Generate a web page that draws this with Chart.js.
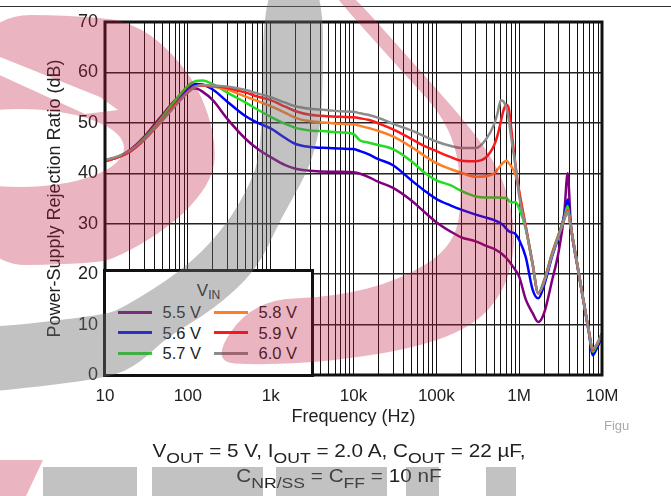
<!DOCTYPE html>
<html>
<head>
<meta charset="utf-8">
<script src="https://cdn.jsdelivr.net/npm/chart.js@4.4.1/dist/chart.umd.min.js"></script>
<style>
  html, body { margin: 0; padding: 0; background: #fff; }
  #wrap { position: relative; width: 671px; height: 496px; overflow: hidden;
          font-family: 'Liberation Sans', Arial, sans-serif; color: #222; }
  #chart { position: absolute; left: 0; top: 0; }
  #topline { position: absolute; left: 0; top: 6px; width: 671px; height: 1px; background: #333; }
  #legend { position: absolute; left: 103px; top: 269px; width: 211px; height: 108px;
            box-sizing: border-box; border: 3px solid #111; background: #fff; }
  #legend .ttl { position: absolute; left: 0; top: 10px; width: 100%; text-align: center;
                 font-size: 17px; line-height: 17px; }
  #legend .ttl span { font-size: 12px; position: relative; top: 3px; }
  #legend .sw { position: absolute; width: 34px; height: 3px; }
  #legend .tx { position: absolute; font-size: 16.5px; line-height: 16.5px; white-space: nowrap; }
  .cap { position: absolute; left: 0; width: 678px; text-align: center; font-size: 18px;
         line-height: 18px; white-space: nowrap; transform: scaleX(1.15); }
  .cap span { font-size: 0.85em; position: relative; top: 6px; }
  #figu { position: absolute; left: 604px; top: 419px; font-size: 13px; line-height: 13px; color: #aaa; }
  #wm { position: absolute; left: 0; top: 0; pointer-events: none; }
</style>
</head>
<body>
<div id="wrap">
  <div id="topline"></div>
  <canvas id="chart" width="671" height="496"></canvas>
  <div id="legend"><div class="ttl">V<span>IN</span></div></div>
  <div class="cap" style="top:442px">V<span>OUT</span> = 5 V, I<span>OUT</span> = 2.0 A, C<span>OUT</span> = 22 µF,</div>
  <div class="cap" style="top:467px">C<span>NR/SS</span> = C<span>FF</span> = 10 nF</div>
  <div id="figu">Figu</div>
  <canvas id="wm" width="671" height="496"></canvas>
</div>
<script>
// frequency points (Hz) shared by all curves
const FREQ = [10, 15, 20, 30, 40, 50, 70, 100, 125, 150, 200, 300, 500, 700,
  1e3, 1.5e3, 2e3, 3e3, 5e3, 7e3, 1e4, 1.2e4, 1.5e4, 2e4, 3e4, 5e4, 7e4,
  1e5, 1.5e5, 2e5, 3e5, 4e5, 5e5, 5.5e5, 6e5, 6.5e5, 7e5, 7.5e5, 8e5, 9e5,
  1e6, 1.2e6, 1.45e6, 1.7e6, 2e6, 2.5e6, 3e6, 3.5e6, 3.85e6, 4.2e6, 5e6, 6e6, 7e6, 7.7e6, 8.5e6, 1e7];

// PSRR (dB) per input voltage
const PSRR_55 = [42.5, 43.4, 44.6, 47.3, 49.8, 51.7, 54.5, 56.5, 56.8, 56.2, 54.5, 50.8, 46.8, 44.8,
  43.2, 41.6, 40.9, 40.5, 40.3, 40.3, 40.2, 39.9, 39.3, 38.3, 37.1, 34.6, 32.5,
  30.3, 28.4, 27.3, 26.5, 25.6, 25.0, 24.6, 24.2, 23.7, 23.2, 22.6, 22.0, 20.8,
  19.5, 15.0, 12.3, 10.5, 12.3, 18.8, 24.5, 32.0, 40.0, 30.0, 22.0, 14.6, 8.3, 4.3, 5.4, 8.0];
const PSRR_56 = [42.4, 43.3, 44.4, 46.9, 49.2, 51.1, 54.0, 56.8, 57.7, 57.6, 56.6, 54.2, 51.3, 50.0,
  48.9, 47.0, 45.8, 45.2, 45.0, 44.9, 44.8, 44.4, 43.8, 42.8, 41.6, 38.6, 36.7,
  34.9, 33.6, 32.8, 31.8, 31.2, 30.7, 30.4, 30.1, 29.6, 29.0, 28.5, 28.3, 28.0,
  26.8, 23.4, 17.0, 15.2, 17.8, 23.5, 27.5, 31.6, 34.8, 29.5, 22.0, 14.4, 8.0, 3.9, 5.0, 7.6];
const PSRR_57 = [42.4, 43.3, 44.4, 47.0, 49.3, 51.3, 54.4, 57.3, 58.3, 58.4, 57.7, 56.0, 54.0, 52.6,
  51.2, 49.8, 49.0, 48.5, 48.3, 48.1, 47.8, 46.5, 46.1, 45.6, 44.8, 42.4, 40.3,
  38.6, 37.6, 36.5, 35.4, 35.2, 35.2, 35.2, 35.2, 35.1, 35.1, 34.6, 34.2, 34.3,
  33.0, 29.0, 22.0, 16.3, 18.8, 24.2, 28.0, 31.2, 33.5, 29.4, 22.2, 14.6, 8.3, 4.6, 5.6, 8.1];
const PSRR_58 = [42.4, 43.3, 44.3, 46.7, 48.9, 50.7, 53.5, 56.2, 57.2, 57.4, 57.2, 56.6, 55.2, 54.3,
  53.3, 52.0, 51.0, 50.3, 50.0, 49.8, 49.7, 49.4, 49.0, 48.4, 47.3, 45.2, 43.6,
  42.0, 40.8, 40.1, 39.3, 39.4, 40.0, 40.8, 41.6, 42.2, 42.5, 42.0, 41.4, 39.8,
  36.5, 29.5, 22.0, 16.2, 18.6, 24.0, 27.8, 30.9, 32.8, 29.3, 22.2, 14.6, 8.4, 5.0, 5.8, 8.2];
const PSRR_59 = [42.4, 43.3, 44.3, 46.7, 48.9, 50.7, 53.5, 56.2, 57.2, 57.4, 57.3, 56.9, 56.0, 55.2,
  54.5, 53.2, 52.3, 51.6, 51.3, 51.2, 51.1, 50.9, 50.6, 49.9, 48.7, 46.8, 45.5,
  44.4, 43.2, 42.5, 42.4, 43.2, 45.6, 47.6, 50.2, 52.6, 53.6, 52.8, 49.0, 41.8,
  36.3, 29.5, 22.2, 16.2, 18.6, 24.0, 27.8, 30.9, 32.6, 29.3, 22.2, 14.6, 8.4, 5.0, 5.8, 8.2];
const PSRR_60 = [42.6, 43.5, 44.5, 46.8, 48.9, 50.6, 53.3, 56.0, 57.2, 57.5, 57.4, 57.2, 56.5, 55.8,
  55.1, 54.0, 53.3, 52.8, 52.5, 52.3, 52.2, 51.9, 51.6, 51.0, 49.8, 48.5, 47.4,
  46.3, 45.4, 45.0, 45.0, 46.8, 49.8, 52.0, 54.5, 54.2, 53.0, 50.6, 47.2, 41.6,
  35.5, 29.2, 22.2, 16.2, 18.5, 23.8, 27.7, 30.8, 32.4, 29.3, 22.2, 14.6, 8.4, 5.2, 5.9, 8.3];

const SERIES = [PSRR_55, PSRR_56, PSRR_57, PSRR_58, PSRR_59, PSRR_60];
const SERIES_NAMES = ['5.5 V', '5.6 V', '5.7 V', '5.8 V', '5.9 V', '6.0 V'];
const SERIES_COLORS = ['#800080', '#0000ff', '#22dd22', '#ff7f27', '#ff1a1a', '#8c8c8c'];

const X_DECADES = [10, 100, 1e3, 1e4, 1e5, 1e6, 1e7];
const X_LABELS = ['10', '100', '1k', '10k', '100k', '1M', '10M'];

const FONT = "'Liberation Sans', Arial, sans-serif";
const textColor = '#222';

const framePlugin = {
  id: 'frame',
  afterDatasetsDraw(chart) {
    const { ctx, chartArea: a } = chart;
    ctx.save();
    ctx.lineWidth = 3;
    ctx.strokeStyle = '#111';
    ctx.strokeRect(a.left, a.top, a.right - a.left, a.bottom - a.top);
    ctx.restore();
  }
};

const chart = new Chart(document.getElementById('chart'), {
  type: 'line',
  data: {
    datasets: SERIES.map((vals, i) => ({
      label: SERIES_NAMES[i],
      data: FREQ.map((f, j) => ({ x: f, y: vals[j] })),
      borderColor: SERIES_COLORS[i],
      backgroundColor: SERIES_COLORS[i],
      order: SERIES.length - i,
    }))
  },
  options: {
    responsive: false,
    animation: false,
    devicePixelRatio: 1,
    layout: { padding: { top: 22, right: 69, bottom: 0, left: 0 } },
    elements: {
      point: { radius: 0 },
      line: { borderWidth: 2.5, cubicInterpolationMode: 'monotone' }
    },
    plugins: { legend: { display: false }, tooltip: { enabled: false } },
    scales: {
      x: {
        type: 'logarithmic', min: 10, max: 1e7,
        afterBuildTicks: (s) => {
          const t = [];
          for (let k = 0; k < X_DECADES.length - 1; k++)
            for (let m = 1; m <= 9; m++) t.push({ value: m * X_DECADES[k] });
          t.push({ value: X_DECADES[X_DECADES.length - 1] });
          s.ticks = t;
        },
        afterFit: (s) => { s.height = 121; },
        border: { display: false },
        grid: { color: '#111', lineWidth: 1, drawTicks: false },
        ticks: {
          autoSkip: false, maxRotation: 0, minRotation: 0, padding: 11,
          color: textColor, font: { family: FONT, size: 17 },
          callback: (v) => { const i = X_DECADES.indexOf(v); return i >= 0 ? X_LABELS[i] : ''; }
        },
        title: {
          display: true, text: 'Frequency (Hz)', color: textColor,
          font: { family: FONT, size: 18, lineHeight: 1 }, padding: { top: 0, bottom: 70 }
        }
      },
      y: {
        min: 0, max: 70,
        afterFit: (s) => { s.width = 105; },
        border: { display: false },
        grid: { color: '#222', lineWidth: 1.5, drawTicks: false },
        ticks: { stepSize: 10, padding: 7, color: textColor, font: { family: FONT, size: 18 } },
        title: {
          display: true, text: 'Power-Supply Rejection Ratio (dB)', color: textColor,
          font: { family: FONT, size: 18, lineHeight: 1 }, padding: { top: 46, bottom: 0 }
        }
      }
    }
  },
  plugins: [framePlugin]
});

// legend, built from the datasets
const leg = document.getElementById('legend');
chart.data.datasets.forEach((ds, i) => {
  const col = Math.floor(i / 3), row = i % 3;
  const sw = document.createElement('div');
  sw.className = 'sw';
  sw.style.left = (12 + col * 96) + 'px';
  sw.style.top = (38.8 + row * 20.5) + 'px';
  sw.style.background = ds.borderColor;
  leg.appendChild(sw);
  const tx = document.createElement('div');
  tx.className = 'tx';
  tx.style.left = (56.5 + col * 96) + 'px';
  tx.style.top = (32.3 + row * 20.5) + 'px';
  tx.textContent = ds.label;
  leg.appendChild(tx);
});

// watermark overlay
const wm = document.getElementById('wm').getContext('2d');
const PINK = 'rgba(190,25,60,0.32)';
const GREY = 'rgba(110,110,110,0.42)';

function smoothShape(ctx, pts) {
  const n = pts.length;
  const mid = (a, b) => [(a[0] + b[0]) / 2, (a[1] + b[1]) / 2];
  const m0 = mid(pts[n - 1], pts[0]);
  ctx.beginPath();
  ctx.moveTo(m0[0], m0[1]);
  for (let i = 0; i < n; i++) {
    const p = pts[i], m = mid(p, pts[(i + 1) % n]);
    ctx.quadraticCurveTo(p[0], p[1], m[0], m[1]);
  }
  ctx.closePath();
}
function poly(ctx, pts) {
  ctx.beginPath();
  pts.forEach(([x, y], i) => i ? ctx.lineTo(x, y) : ctx.moveTo(x, y));
  ctx.closePath();
}

// left pink arc, with its white cut-outs
wm.fillStyle = PINK;
smoothShape(wm, [[-40, 14], [103, 16], [142, 28], [172, 53], [195, 83], [209, 115], [216, 150],
  [212, 178], [190, 208], [160, 233], [120, 256], [95, 264], [-40, 266]]);
wm.fill();
wm.globalCompositeOperation = 'destination-out';
wm.fillStyle = '#000';
wm.beginPath(); wm.ellipse(20, 148, 104, 39, 0, 0, Math.PI * 2); wm.fill();
poly(wm, [[-5, 55], [100, 97], [118, 110], [85, 114], [-5, 73]]); wm.fill();
wm.globalCompositeOperation = 'source-over';

// grey band
wm.fillStyle = GREY;
smoothShape(wm, [[263, -30], [323, -30], [323, 110], [316, 145], [307, 173], [280, 220], [257, 270],
  [213, 310], [167, 337], [140, 363], [110, 378], [0, 391], [-40, 393], [-40, 327], [0, 327],
  [103, 315], [123, 308], [183, 270], [220, 233], [245, 195], [263, 150]]);
wm.fill();

// right pink arc
wm.fillStyle = PINK;
smoothShape(wm, [[320, -20], [339, -20], [417, 67], [470, 127], [500, 170], [513, 215], [515, 248],
  [505, 290], [475, 325], [420, 347], [335, 361], [260, 365], [210, 362], [253, 300], [335, 297],
  [400, 280], [452, 248], [463, 200], [453, 127], [398, 67]]);
wm.fill();

// blocks along the bottom edge
poly(wm, [[0, 460], [43, 460], [26, 496], [0, 496]]); wm.fill();
wm.fillStyle = GREY;
[[43, 137], [152, 263], [276, 387], [406, 439], [486, 516]].forEach(([a, b]) => {
  wm.fillRect(a, 467, b - a, 29);
});
</script>
</body>
</html>
